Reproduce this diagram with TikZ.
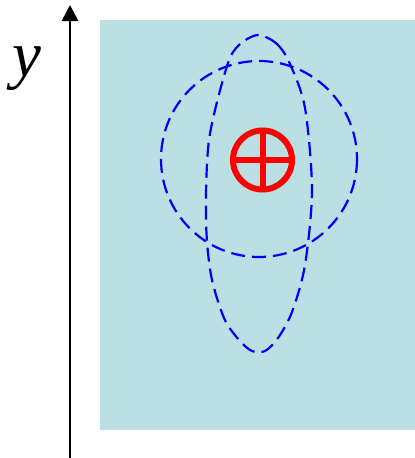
\documentclass[tikz,border=0pt]{standalone}
\usepackage{fontspec}
\setmainfont{Liberation Serif}
\usetikzlibrary{arrows.meta}
\definecolor{bgteal}{RGB}{186,224,227}
\definecolor{dashblue}{RGB}{0,0,255}
\tikzset{
  bluedash/.style={draw=dashblue, line width=2.2pt, dash pattern=on 14pt off 7pt},
  redmark/.style={draw=red, line width=6pt},
  axisline/.style={line width=2.8pt, -{Triangle[length=16pt,width=16pt]}}
}
\begin{document}
\begin{tikzpicture}[x=1pt,y=-1pt]
\useasboundingbox (0,0) rectangle (415,458);
\fill[bgteal] (100,20) rectangle (415,430);
\coordinate (axb) at (70,458);
\coordinate (axt) at (70,5);
\draw[axisline] (axb) -- (axt);
\node[inner sep=0pt] (ylab) at (27,69) {\fontsize{65}{65}\selectfont\itshape y};
\draw[bluedash] (259,159) circle[radius=98];
\draw[bluedash] plot[smooth cycle] coordinates {(258,35) (277,44) (290,64) (305,108) (312,190) (305,265) (292,312) (278,338) (265,351) (252,351) (239,340) (224,318) (211,275) (206,220) (209,140) (227,66) (239,45)};
\draw[redmark] (262.5,160) circle[radius=29.5];
\draw[redmark] (262.5,130.5) -- (262.5,189.5) (233,160) -- (292,160);
\end{tikzpicture}
\end{document}
